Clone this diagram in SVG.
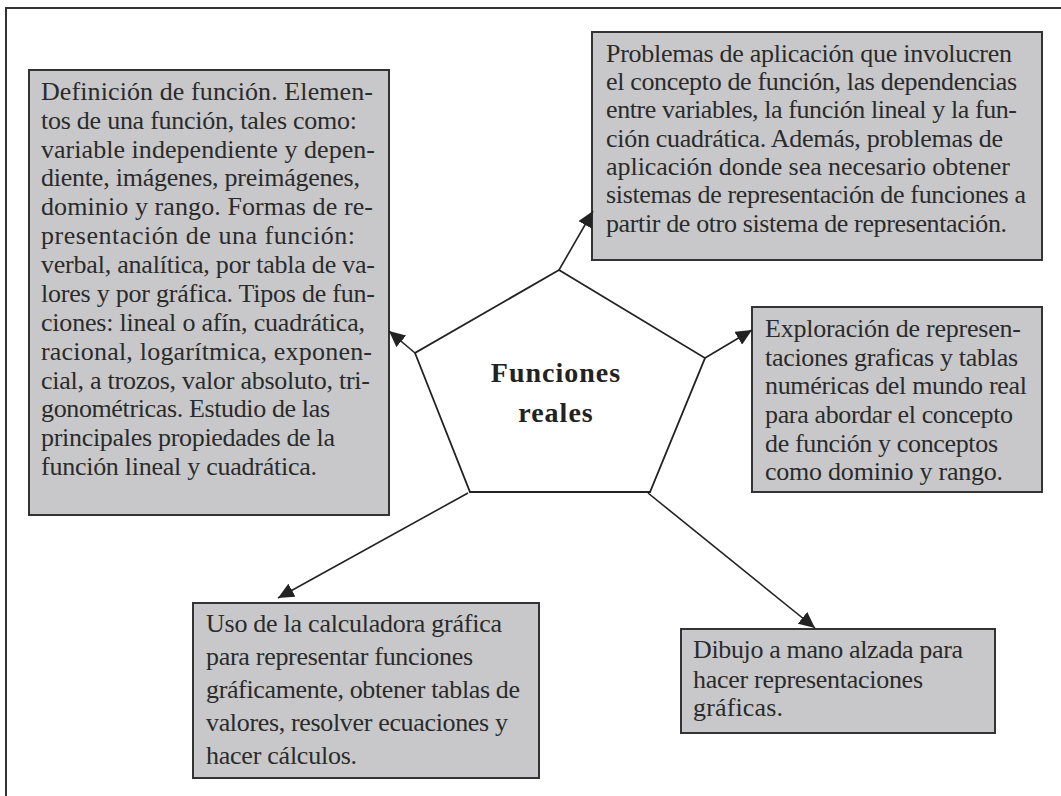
<svg xmlns="http://www.w3.org/2000/svg" width="1061" height="796" viewBox="0 0 1061 796">
<style>
.box{fill:#c8c8ca;stroke:#333;stroke-width:2}
.t{font-family:"Liberation Serif","Times New Roman",serif;font-size:26px;fill:#2b2b2b}
.title{font-family:"Liberation Serif","Times New Roman",serif;font-size:28px;font-weight:bold;fill:#222;letter-spacing:1px}
.c{stroke:#222;stroke-width:1.6;fill:none}
</style>
<defs>
<marker id="ah" markerUnits="userSpaceOnUse" markerWidth="17" markerHeight="15" refX="16" refY="7.5" orient="auto">
<path d="M0,0 L16,7.5 L0,15 z" fill="#222"/>
</marker>
</defs>
<rect width="1061" height="796" fill="#fff"/>
<path d="M6,796 V8 H1061" fill="none" stroke="#333" stroke-width="2"/>
<g id="n-definicion">
<rect class="box" x="29" y="70" width="360" height="445"/>
<text class="t">
<tspan x="41" y="100" textLength="332" lengthAdjust="spacing">Definición de función. Elemen-</tspan>
<tspan x="41" y="129" textLength="316" lengthAdjust="spacing">tos de una función, tales como:</tspan>
<tspan x="41" y="158" textLength="334" lengthAdjust="spacing">variable independiente y depen-</tspan>
<tspan x="41" y="186" textLength="319" lengthAdjust="spacing">diente, imágenes, preimágenes,</tspan>
<tspan x="41" y="215" textLength="332" lengthAdjust="spacing">dominio y rango. Formas de re-</tspan>
<tspan x="41" y="244" textLength="314" lengthAdjust="spacing">presentación de una función:</tspan>
<tspan x="41" y="273" textLength="334" lengthAdjust="spacing">verbal, analítica, por tabla de va-</tspan>
<tspan x="41" y="302" textLength="334" lengthAdjust="spacing">lores y por gráfica. Tipos de fun-</tspan>
<tspan x="41" y="331" textLength="324" lengthAdjust="spacing">ciones: lineal o afín, cuadrática,</tspan>
<tspan x="41" y="360" textLength="331" lengthAdjust="spacing">racional, logarítmica, exponen-</tspan>
<tspan x="41" y="389" textLength="329" lengthAdjust="spacing">cial, a trozos, valor absoluto, tri-</tspan>
<tspan x="41" y="417" textLength="289" lengthAdjust="spacing">gonométricas. Estudio de las</tspan>
<tspan x="41" y="446" textLength="294" lengthAdjust="spacing">principales propiedades de la</tspan>
<tspan x="41" y="475" textLength="276" lengthAdjust="spacing">función lineal y cuadrática.</tspan>
</text>
</g>
<g id="n-problemas">
<rect class="box" x="592" y="32" width="450" height="228"/>
<text class="t">
<tspan x="606" y="62" textLength="406" lengthAdjust="spacing">Problemas de aplicación que involucren</tspan>
<tspan x="606" y="90" textLength="411" lengthAdjust="spacing">el concepto de función, las dependencias</tspan>
<tspan x="606" y="118" textLength="411" lengthAdjust="spacing">entre variables, la función lineal y la fun-</tspan>
<tspan x="606" y="147" textLength="397" lengthAdjust="spacing">ción cuadrática. Además, problemas de</tspan>
<tspan x="606" y="175" textLength="404" lengthAdjust="spacing">aplicación donde sea necesario obtener</tspan>
<tspan x="606" y="203" textLength="420" lengthAdjust="spacing">sistemas de representación de funciones a</tspan>
<tspan x="606" y="232" textLength="401" lengthAdjust="spacing">partir de otro sistema de representación.</tspan>
</text>
</g>
<g id="n-exploracion">
<rect class="box" x="752" y="307" width="290" height="185"/>
<text class="t">
<tspan x="765" y="337" textLength="256" lengthAdjust="spacing">Exploración de represen-</tspan>
<tspan x="765" y="366" textLength="253" lengthAdjust="spacing">taciones graficas y tablas</tspan>
<tspan x="765" y="394" textLength="262" lengthAdjust="spacing">numéricas del mundo real</tspan>
<tspan x="765" y="423" textLength="248" lengthAdjust="spacing">para abordar el concepto</tspan>
<tspan x="765" y="452" textLength="233" lengthAdjust="spacing">de función y conceptos</tspan>
<tspan x="765" y="480" textLength="238" lengthAdjust="spacing">como dominio y rango.</tspan>
</text>
</g>
<g id="n-calculadora">
<rect class="box" x="193" y="603" width="346" height="175"/>
<text class="t">
<tspan x="206" y="632" textLength="296" lengthAdjust="spacing">Uso de la calculadora gráfica</tspan>
<tspan x="206" y="665" textLength="267" lengthAdjust="spacing">para representar funciones</tspan>
<tspan x="206" y="698" textLength="314" lengthAdjust="spacing">gráficamente, obtener tablas de</tspan>
<tspan x="206" y="731" textLength="302" lengthAdjust="spacing">valores, resolver ecuaciones y</tspan>
<tspan x="206" y="764" textLength="151" lengthAdjust="spacing">hacer cálculos.</tspan>
</text>
</g>
<g id="n-dibujo">
<rect class="box" x="681" y="629" width="314" height="104"/>
<text class="t">
<tspan x="693" y="658" textLength="270" lengthAdjust="spacing">Dibujo a mano alzada para</tspan>
<tspan x="693" y="688" textLength="230" lengthAdjust="spacing">hacer representaciones</tspan>
<tspan x="693" y="716" textLength="90" lengthAdjust="spacing">gráficas.</tspan>
</text>
</g>
<g id="n-center">
<polygon points="559,270 705,358 650,492 470,492 415,353" fill="#fff" stroke="#222" stroke-width="1.8"/>
<text class="title" text-anchor="middle"><tspan x="556" y="382">Funciones</tspan><tspan x="556" y="422">reales</tspan></text>
</g>
<g id="connectors">
<line class="c" x1="559" y1="270" x2="593" y2="211" marker-end="url(#ah)"/>
<line class="c" x1="415" y1="353" x2="389" y2="331" marker-end="url(#ah)"/>
<line class="c" x1="705" y1="358" x2="752" y2="330" marker-end="url(#ah)"/>
<line class="c" x1="468" y1="493" x2="278" y2="598" marker-end="url(#ah)"/>
<line class="c" x1="648" y1="493" x2="815" y2="628" marker-end="url(#ah)"/>
</g>
</svg>
